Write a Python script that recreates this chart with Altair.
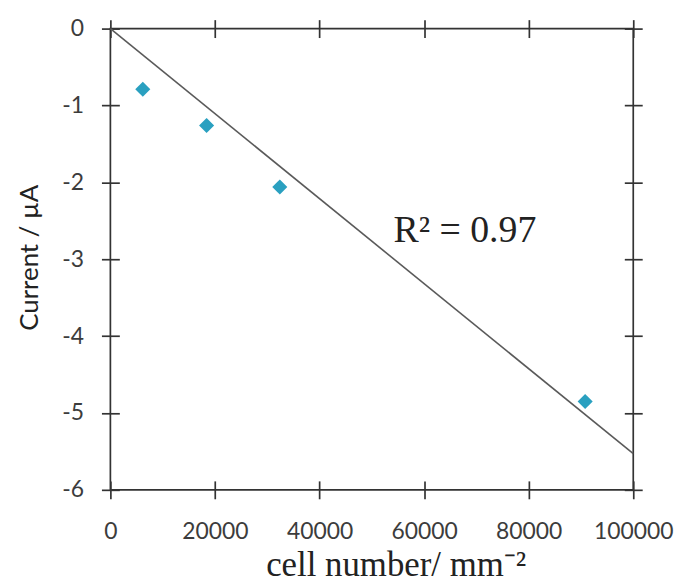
import altair as alt
import pandas as pd

# data
cells = [6200, 18400, 32400, 90800]
current = [-0.79, -1.26, -2.06, -4.85]
fit_x = [0, 100000]
fit_y = [0, -5.53]
x_ticks = [0, 20000, 40000, 60000, 80000, 100000]
y_ticks = [0, -1, -2, -3, -4, -5, -6]
note_x = [67800]
note_y = [-2.77]
note_text = ["R² = 0.97"]

pts = pd.DataFrame({"x": cells, "y": current})
fit = pd.DataFrame({"x": fit_x, "y": fit_y})
note = pd.DataFrame({"x": note_x, "y": note_y, "t": note_text})

xscale = alt.Scale(domain=[0, 100000], nice=False, zero=False)
yscale = alt.Scale(domain=[-6, 0], nice=False, zero=False)

tick_style = dict(domain=False, grid=False, tickColor="#333333", tickWidth=1.7,
                  tickSize=18, offset=-9)

line = alt.Chart(fit).mark_line(color="#5a5a5a", strokeWidth=1.6).encode(
    x=alt.X("x:Q", scale=xscale,
            axis=alt.Axis(orient="top", values=x_ticks, labels=False, title=None, **tick_style)),
    y=alt.Y("y:Q", scale=yscale,
            axis=alt.Axis(orient="right", values=y_ticks, labels=False, title=None, **tick_style)),
)

points = alt.Chart(pts).mark_point(shape="diamond", filled=True, size=230,
                                   color="#2aa0c0", opacity=1).encode(
    x=alt.X("x:Q", scale=xscale,
            axis=alt.Axis(orient="bottom", values=x_ticks, format="d", labelOverlap=False,
                          labelFlush=False,
                          labelFont="Lato", labelFontSize=23, labelColor="#3c3c3c",
                          labelPadding=22,
                          title="cell number/ mm⁻²", titleFont="Liberation Serif",
                          titleFontSize=35, titleFontWeight="normal", titleColor="#222222",
                          titleX=287, titleY=95, titleBaseline="alphabetic",
                          titleAlign="center", **tick_style)),
    y=alt.Y("y:Q", scale=yscale,
            axis=alt.Axis(orient="left", values=y_ticks, labelFlush=False,
                          labelExpr="datum.value < 0 ? '-' + abs(datum.value) : '' + datum.value",
                          labelFont="Lato", labelFontSize=23, labelColor="#3c3c3c",
                          labelPadding=18,
                          title="Current / µA", titleFont="Lato", titleFontSize=26,
                          titleFontWeight="normal", titleColor="#222222",
                          titleX=-90, titleY=230, titleBaseline="middle",
                          titleAlign="center", titleAngle=270, **tick_style)),
)

text = alt.Chart(note).mark_text(font="Liberation Serif", fontSize=38, color="#222222",
                                 align="center", baseline="alphabetic").encode(
    x=alt.X("x:Q", scale=xscale, axis=None),
    y=alt.Y("y:Q", scale=yscale, axis=None),
    text="t:N",
)

chart = alt.layer(line, points, text).resolve_axis(
    x="independent", y="independent"
).properties(
    width=526, height=464,
    autosize=alt.AutoSizeParams(type="none"),
    padding={"left": 103, "top": 19, "right": 43, "bottom": 92},
).configure_view(
    stroke="#333333", strokeWidth=1.7
)

chart.save("out.html", embed_options={"renderer": "svg", "actions": False})
